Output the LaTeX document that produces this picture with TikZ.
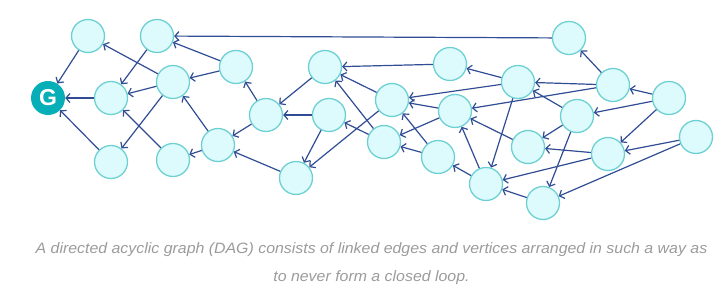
\documentclass[tikz,border=0pt]{standalone}
\usepackage{fontspec}
\setmainfont{Liberation Sans}
\usetikzlibrary{arrows.meta}
\definecolor{nodefill}{HTML}{DDFBFC}
\definecolor{nodeline}{HTML}{6DD0D3}
\definecolor{edgecol}{HTML}{2F4C94}
\definecolor{gteal}{HTML}{06AEB8}
\definecolor{capgray}{HTML}{9B9B9B}
\begin{document}
\begin{tikzpicture}[x=1pt,y=-1pt,
 vtx/.style={circle,draw=nodeline,fill=nodefill,line width=1.3pt,minimum size=33pt,inner sep=0pt},
 gvtx/.style={circle,fill=gteal,minimum size=34pt,inner sep=0pt,text=white,font=\bfseries\fontsize{23}{23}\selectfont},
 link/.style={draw=edgecol,line width=1.2pt,-{Straight Barb[length=4pt,width=9pt]}},
 captxt/.style={text=capgray,font=\itshape\fontsize{15}{17}\selectfont,inner sep=0pt,anchor=base},
]
\useasboundingbox (0,0) rectangle (724,289);
\node[gvtx] (G) at (48,98) {G};
\node[vtx] (A) at (88,36) {};
\node[vtx] (B) at (157,36) {};
\node[vtx] (C) at (111,98) {};
\node[vtx] (D) at (173,82) {};
\node[vtx] (E) at (236,67) {};
\node[vtx] (F) at (111,162) {};
\node[vtx] (H) at (173,160) {};
\node[vtx] (I) at (218,145) {};
\node[vtx] (J) at (266,115) {};
\node[vtx] (K) at (325,67) {};
\node[vtx] (L) at (329,115) {};
\node[vtx] (M) at (296,178) {};
\node[vtx] (N) at (450,64) {};
\node[vtx] (O) at (392,100) {};
\node[vtx] (P) at (384,142) {};
\node[vtx] (Q) at (455,111) {};
\node[vtx] (R) at (438,157) {};
\node[vtx] (S) at (569,38) {};
\node[vtx] (T) at (518,82) {};
\node[vtx] (U) at (613,85) {};
\node[vtx] (V) at (669,98) {};
\node[vtx] (W) at (577,116) {};
\node[vtx] (X) at (696,137) {};
\node[vtx] (Y) at (528,147) {};
\node[vtx] (Z) at (608,154) {};
\node[vtx] (AA) at (486,184) {};
\node[vtx] (AB) at (543,203) {};
\foreach \s/\t in {A/G,C/G,F/G,D/A,B/C,D/C,H/C,D/F,E/B,E/D,I/D,I/H,J/E,J/I,M/I,S/B,
  K/J,L/J,L/M,N/K,O/K,P/K,P/L,O/M,T/N,T/O,Q/O,R/O,Q/P,R/P,U/T,U/S,U/Q,W/T,T/AA,
  V/U,V/W,V/Z,W/Y,W/AB,Y/Q,Z/Y,Z/AA,X/Z,X/AB,AA/R,AA/Q,AB/AA}
  \draw[link] (\s) -- (\t);
\node[captxt] (cap1) at (371.5,253) {\scalebox{1.06}[1]{A directed acyclic graph (DAG) consists of linked edges and vertices arranged in such a way as}};
\node[captxt] (cap2) at (371.5,281) {\scalebox{1.06}[1]{to never form a closed loop.}};
\end{tikzpicture}
\end{document}
